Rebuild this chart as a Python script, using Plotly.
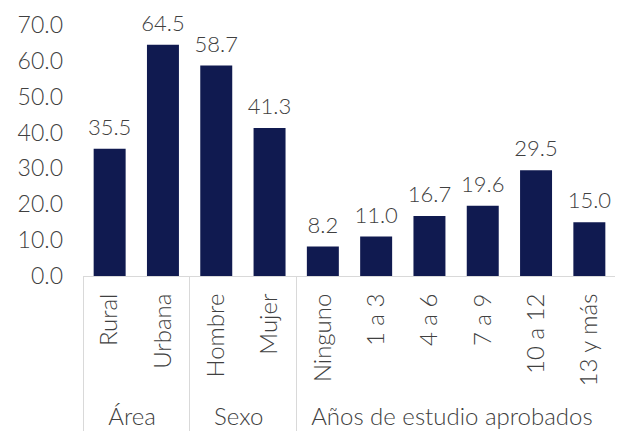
import plotly.graph_objects as go

groups = ["Área", "Área", "Sexo", "Sexo",
          "Años de estudio aprobados", "Años de estudio aprobados",
          "Años de estudio aprobados", "Años de estudio aprobados",
          "Años de estudio aprobados", "Años de estudio aprobados"]
categories = ["Rural", "Urbana", "Hombre", "Mujer", "Ninguno", "1 a 3",
              "4 a 6", "7 a 9", "10 a 12", "13 y más"]
values = [35.5, 64.5, 58.7, 41.3, 8.2, 11.0, 16.7, 19.6, 29.5, 15.0]
y_ticks = [0, 10, 20, 30, 40, 50, 60, 70]

FONT = "Lato"
GRAY = "#404040"
FS = 23

fig = go.Figure()
fig.add_trace(go.Bar(
    x=[groups, categories], y=values,
    marker=dict(color="#101A50", line=dict(width=0)),
    width=0.6,
))
fig.add_trace(go.Scatter(
    x=[groups, categories], y=values,
    mode="markers+text",
    marker=dict(size=12, opacity=0, color="white"),
    text=[f"{v:.1f}" for v in values], textposition="top center",
    textfont=dict(family=FONT, size=22, color=GRAY, weight=300),
    cliponaxis=False, hoverinfo="skip",
))

# page body adds an 8px offset, so the figure is sized 8px smaller
fig.update_layout(
    width=615, height=427,
    margin=dict(l=75, r=7, t=17, b=159),
    plot_bgcolor="white", paper_bgcolor="white",
    showlegend=False,
    bargap=0.4,
    font=dict(family=FONT, size=FS, color=GRAY, weight=300),
)
fig.update_yaxes(range=[0, 70], tickvals=y_ticks, tickformat=".1f",
                 showgrid=False, zeroline=False, showline=False,
                 automargin=False, ticklabelstandoff=19,
                 tickfont=dict(family=FONT, size=FS, color=GRAY, weight=300))
fig.update_xaxes(type="multicategory", tickangle=-90, automargin=False,
                 range=[-0.5, len(categories) - 0.5],
                 showline=True, linecolor="#d9d9d9", linewidth=1,
                 showdividers=True, dividercolor="#d9d9d9", dividerwidth=1,
                 ticklabelstandoff=7,
                 tickfont=dict(family=FONT, size=24, color=GRAY, weight=300))

fig.write_html("out.html")
